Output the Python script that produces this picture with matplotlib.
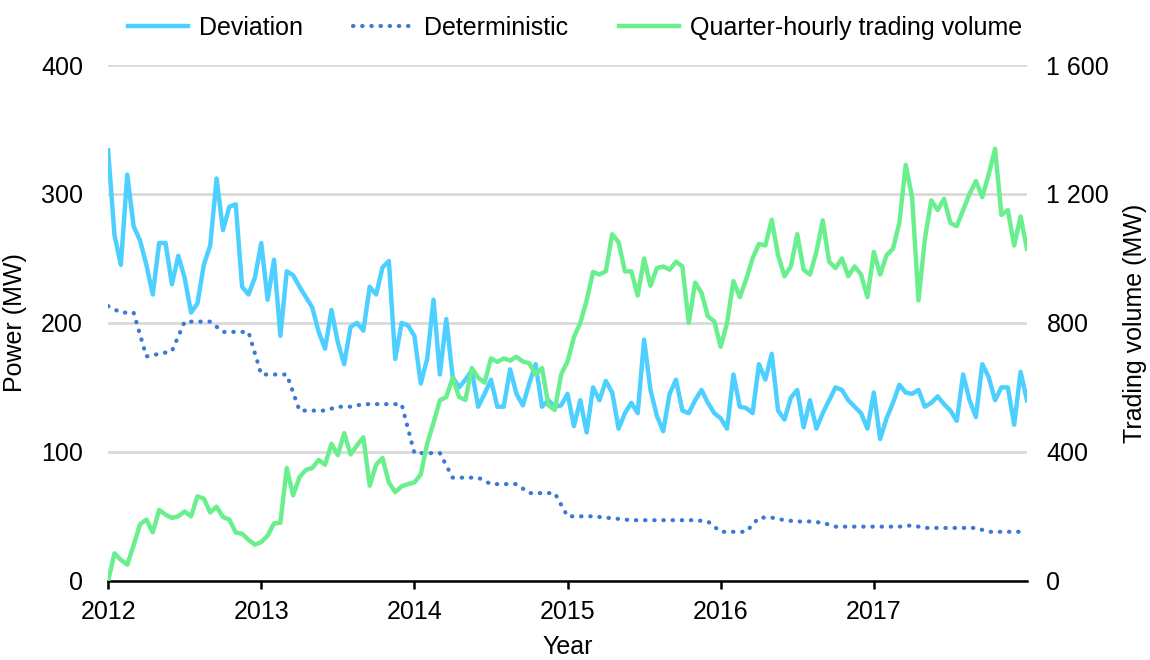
import numpy as np
import matplotlib
matplotlib.use("Agg")
import matplotlib.pyplot as plt
from matplotlib.ticker import FuncFormatter

plt.rcParams['font.family'] = ['Liberation Sans', 'DejaVu Sans']

# half-monthly samples, 2012-01 .. 2018-01
deviation = [334, 268, 245, 315, 275, 264, 245, 222, 262, 262, 230, 252,
             235, 208, 215, 245, 260, 312, 272, 290, 292, 228, 222, 235,
             262, 218, 249, 190, 240, 237, 228, 220, 212, 193, 180, 210,
             185, 168, 197, 200, 194, 228, 222, 243, 248, 172, 200, 198,
             190, 153, 172, 218, 160, 203, 158, 150, 156, 163, 135, 145,
             156, 135, 135, 164, 145, 136, 153, 168, 135, 140, 135, 136,
             145, 120, 140, 115, 150, 140, 155, 146, 118, 130, 138, 130,
             187, 148, 128, 116, 145, 156, 132, 130, 140, 148, 138, 130,
             126, 118, 160, 135, 134, 130, 168, 156, 176, 132, 125, 142,
             148, 119, 140, 118, 130, 140, 150, 148, 140, 135, 130, 118,
             146, 110, 126, 138, 152, 146, 145, 148, 135, 138, 143, 137,
             132, 124, 160, 140, 127, 168, 158, 140, 150, 150, 121, 162,
             140]

volume = [0, 85, 65, 50, 110, 175, 190, 150, 220, 205, 195, 200,
          215, 200, 262, 255, 212, 230, 198, 190, 150, 146, 127, 112,
          120, 140, 178, 180, 350, 265, 322, 344, 350, 375, 360, 425,
          390, 458, 392, 420, 445, 295, 360, 381, 305, 275, 293, 300,
          305, 330, 425, 490, 560, 570, 630, 570, 561, 660, 630, 615,
          690, 679, 690, 683, 695, 680, 675, 640, 660, 545, 530, 640,
          680, 755, 800, 870, 958, 950, 960, 1075, 1050, 960, 960, 885,
          1000, 915, 970, 975, 965, 990, 975, 800, 925, 893, 820, 805,
          726, 800, 930, 880, 935, 1000, 1045, 1040, 1120, 1010, 945, 975,
          1075, 965, 950, 1020, 1118, 990, 970, 1000, 945, 975, 950, 880,
          1020, 950, 1010, 1030, 1110, 1290, 1190, 870, 1060, 1180, 1150, 1185,
          1110, 1100, 1150, 1200, 1240, 1190, 1260, 1340, 1135, 1150, 1040, 1130,
          1030]

# monthly, 2012-01 .. 2018-01
deterministic = [213, 208, 208, 174, 176, 178, 201, 201, 201, 193, 193, 193,
                 160, 160, 160, 132, 132, 132, 135, 135, 137, 137, 137, 137,
                 99, 99, 99, 80, 80, 80, 75, 75, 75, 68, 68, 68,
                 50, 50, 50, 49, 48, 47, 47, 47, 47, 47, 47, 46,
                 38, 38, 38, 49, 49, 47, 46, 46, 45, 42, 42, 42,
                 42, 42, 42, 43, 41, 41, 41, 41, 41, 38, 38, 38,
                 38]

years = [2012, 2013, 2014, 2015, 2016, 2017]

t_half = 2012 + np.arange(len(deviation)) / 24
t_month = 2012 + np.arange(len(deterministic)) / 12

fs = 18

fig = plt.figure(figsize=(11.5, 6.6), dpi=100)
ax = fig.add_axes([0.094, 0.12, 0.799, 0.7815])
ax2 = ax.twinx()

l1, = ax.plot(t_half, deviation, color='#4dd0ff', lw=3.2, label='Deviation')
l2, = ax.plot(t_month, deterministic, color='#3b78d8', lw=3.0,
              linestyle=(0, (0.1, 2.1)), dash_capstyle='round', label='Deterministic')
l3, = ax2.plot(t_half, volume, color='#6aef8e', lw=3.2, label='Quarter-hourly trading volume')

ax.set_xlim(2012, 2018)
ax.set_ylim(0, 400)
ax2.set_ylim(0, 1600)
ax.set_yticks([0, 100, 200, 300, 400])
ax2.set_yticks([0, 400, 800, 1200, 1600])
ax2.yaxis.set_major_formatter(FuncFormatter(lambda v, p: f'{int(v):,}'.replace(',', ' ')))
ax.set_xticks(years)

ax.grid(axis='y', color='#d9d9d9', lw=2)
ax.set_axisbelow(True)
for a in (ax, ax2):
    for s in ('top', 'left', 'right'):
        a.spines[s].set_visible(False)
    a.tick_params(axis='y', length=0, labelsize=fs, pad=18)
ax2.spines['bottom'].set_visible(False)
ax2.tick_params(axis='y', pad=14)
ax.spines['bottom'].set_linewidth(1.8)
ax.tick_params(axis='x', length=6, width=1.8, labelsize=fs, pad=8)

ax.set_ylabel('Power (MW)', fontsize=fs, labelpad=10)
ax2.set_ylabel('Trading volume (MW)', fontsize=fs, labelpad=10)
ax.set_xlabel('Year', fontsize=fs, labelpad=8)

fig.legend(handles=[l1, l2, l3], loc='upper center', bbox_to_anchor=(0.5, 1.01),
           ncol=3, frameon=False, fontsize=fs, handlelength=2.4,
           columnspacing=2.0, handletextpad=0.45)

fig.savefig('out.png', dpi=100)
